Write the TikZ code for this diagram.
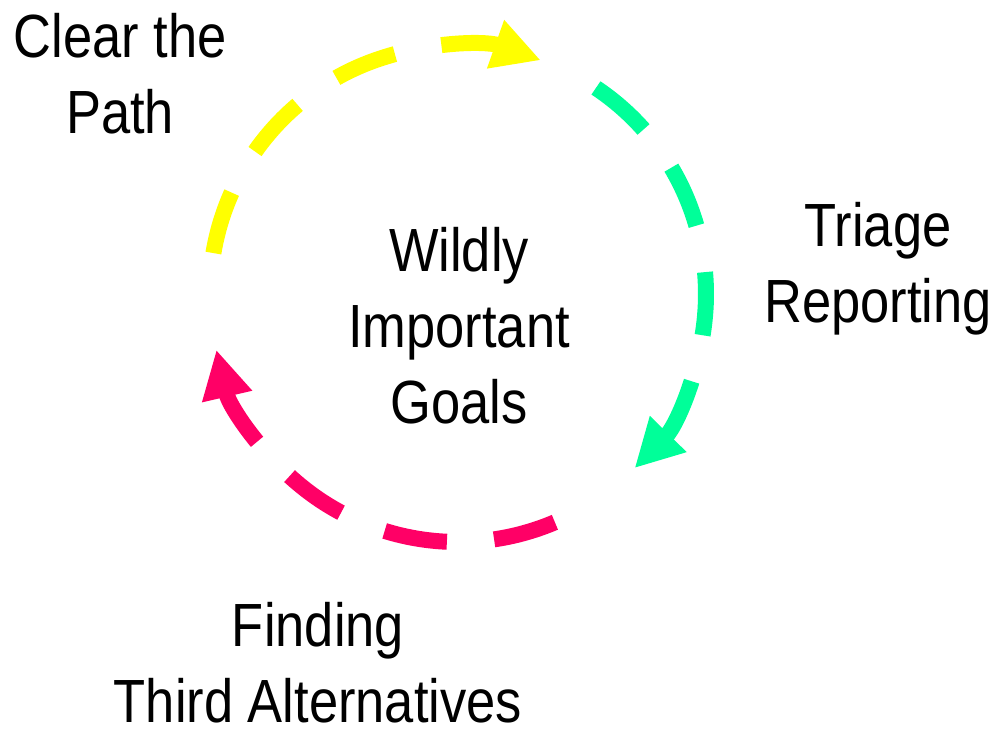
\documentclass[tikz,border=0pt]{standalone}
\usepackage{fontspec}
\setmainfont{Liberation Sans}[FakeStretch=0.86]
\usetikzlibrary{arrows.meta}
\definecolor{cyel}{RGB}{255,255,0}
\definecolor{cgrn}{RGB}{0,255,153}
\definecolor{cmag}{RGB}{255,0,102}
\begin{document}
\begin{tikzpicture}[x=0.75pt,y=-0.75pt,
  cyc/.style={line width=12pt, line cap=butt, dash pattern=on 47.5pt off 35.5pt,
    -{Triangle[length=36pt,width=36pt]}},
  lbl/.style={font=\fontsize{45.75}{57}\selectfont, align=center, inner sep=0pt, anchor=base}]
\useasboundingbox (0,0) rectangle (997,732);
\coordinate (c) at (458,294);
\draw[cyc, cyel] ([shift={(-170.5:248)}]c) arc[start angle=-170.5, end angle=-70.5, radius=248];
\draw[cyc, cgrn] ([shift={(-56.2:248)}]c) arc[start angle=-56.2, end angle=44.6, radius=248];
\draw[cyc, cmag] ([shift={(67:248)}]c) arc[start angle=67, end angle=167, radius=248];
\node[lbl] (clear) at (120,133) {Clear the\\Path};
\node[lbl] (triage) at (878,322) {Triage\\Reporting};
\node[lbl] (wig) at (459,423) {Wildly\\Important\\Goals};
\node[lbl] (third) at (318,722) {Finding\\Third Alternatives};
\end{tikzpicture}
\end{document}
